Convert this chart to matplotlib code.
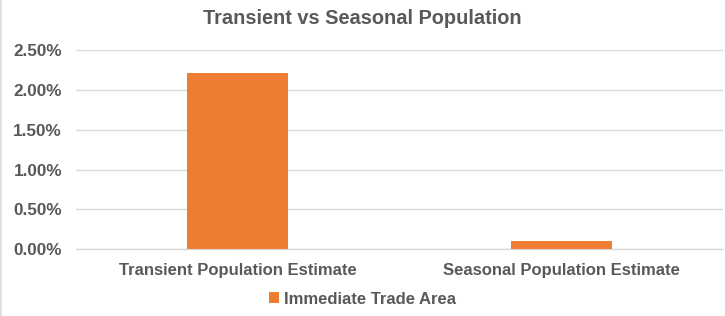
import matplotlib
matplotlib.use("Agg")
import matplotlib.pyplot as plt
from matplotlib.ticker import FuncFormatter
from matplotlib.lines import Line2D

categories = ["Transient Population Estimate", "Seasonal Population Estimate"]
values = [2.21, 0.11]
series_name = "Immediate Trade Area"
yticks = [0.0, 0.5, 1.0, 1.5, 2.0, 2.5]

plt.rcParams['font.family'] = ['Liberation Sans', 'DejaVu Sans']
text_color = "#595959"
bar_color = "#ED7D31"
grid_color = "#D9D9D9"

W, H = 725, 316
fig = plt.figure(figsize=(W/100, H/100), dpi=100)
ax = fig.add_axes([76/W, 1-249.3/H, 647/W, 199.3/H])

x = list(range(len(categories)))
ax.bar(x, values, width=0.313, color=bar_color, zorder=3, label=series_name)
ax.set_xlim(-0.5, len(categories) - 0.5)
ax.set_ylim(0, 2.5)
ax.set_yticks(yticks)
ax.yaxis.set_major_formatter(FuncFormatter(lambda v, p: f"{v:.2f}%"))
ax.set_xticks(x)
ax.set_xticklabels(categories)
ax.grid(axis='y', color=grid_color, linewidth=1, zorder=0)
for s in ['top', 'right', 'left']:
    ax.spines[s].set_visible(False)
ax.spines['bottom'].set_color(grid_color)
ax.spines['bottom'].set_linewidth(1)
ax.tick_params(axis='y', length=0, labelsize=12.3, labelcolor=text_color, pad=10)
ax.tick_params(axis='x', length=0, labelsize=12, labelcolor=text_color, pad=10)
for lab in ax.get_xticklabels() + ax.get_yticklabels():
    lab.set_fontweight('bold')

fig.text(0.5, 1-18/H, "Transient vs Seasonal Population", ha='center', va='center',
         fontsize=14.4, fontweight='bold', color=text_color)

leg = fig.legend(loc='center', bbox_to_anchor=(0.5, 1-299/H), frameon=False,
                 handlelength=0.6, handleheight=0.6, handletextpad=0.25,
                 prop={'weight': 'bold', 'size': 12})
for t in leg.get_texts():
    t.set_color(text_color)

# chart border (only left edge visible in the reference)
fig.add_artist(Line2D([0.5/W, 0.5/W], [0, 1], transform=fig.transFigure,
                      color="#D9D9D9", linewidth=1.2))

fig.savefig("out.png", dpi=100)
